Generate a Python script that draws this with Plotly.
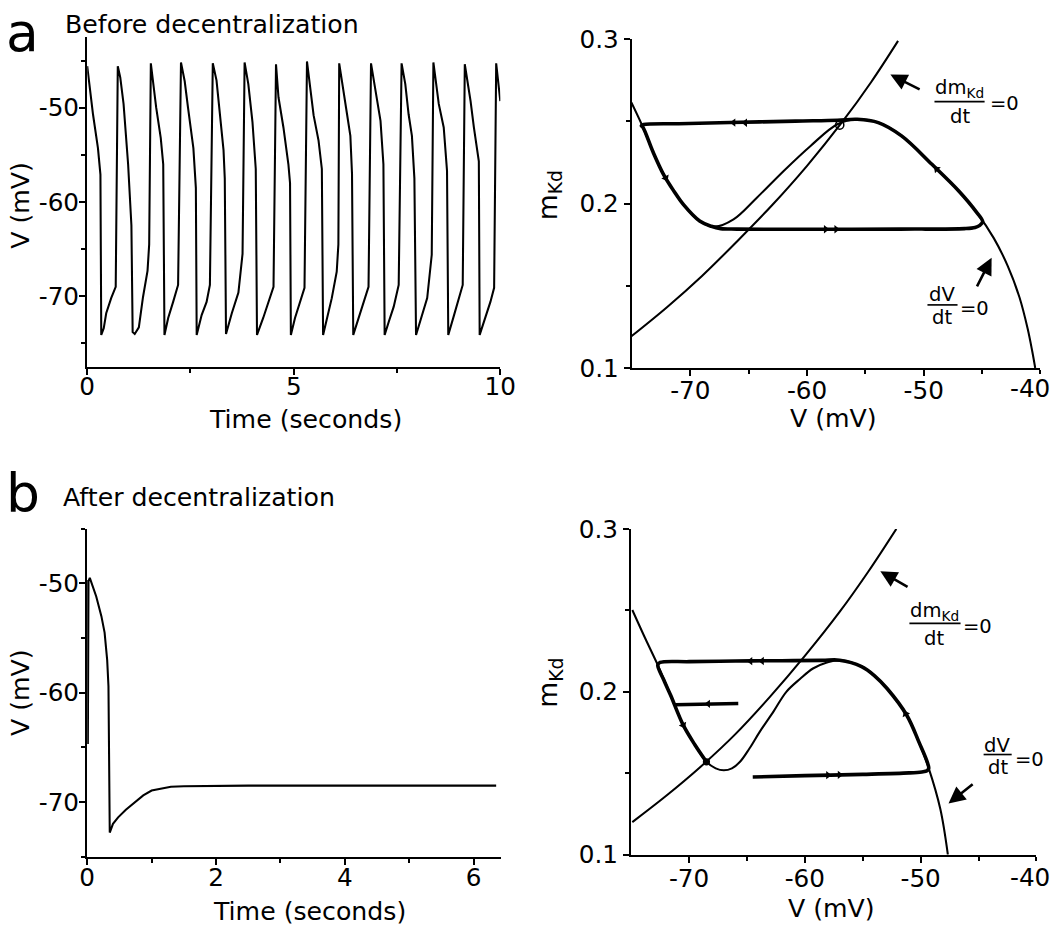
import plotly.graph_objects as go

# Figure canvas (page pixels)
W, H = 1072, 946
# The photographed picture shows the page slightly shrunk and offset:
#   picture_x = 0.975 * page_x + 7,  picture_y = 0.968 * page_y + 16.5
# All positions below are given in picture (reference) pixels and mapped back.
MX, BX, MY, BY = 0.975, 7.0, 0.968, 16.5
S = 1 / 0.972          # size compensation for fonts / markers
FONT = "DejaVu Sans"
BLACK = "black"

# ---------------- Panel a (left): V trace before decentralization ----------------
time_a = [0.00, 0.05, 0.14, 0.26, 0.32, 0.34, 0.40, 0.46, 0.58, 0.69,
          0.74, 0.80, 0.88, 0.99, 1.07, 1.10, 1.15, 1.25, 1.35, 1.46, 1.50,
          1.54, 1.59, 1.67, 1.78, 1.84, 1.87, 1.96, 2.08, 2.20,
          2.27, 2.36, 2.44, 2.57, 2.63, 2.65, 2.77, 2.89, 2.97,
          3.04, 3.13, 3.21, 3.30, 3.33, 3.36, 3.50, 3.66, 3.76,
          3.81, 3.90, 4.00, 4.08, 4.11, 4.26, 4.39, 4.51,
          4.57, 4.63, 4.75, 4.87, 4.91, 4.93, 5.03, 5.15, 5.26,
          5.32, 5.38, 5.48, 5.60, 5.68, 5.71, 5.80, 5.92, 6.04, 6.08,
          6.10, 6.21, 6.29, 6.37, 6.41, 6.44, 6.57, 6.69, 6.81,
          6.87, 6.97, 7.10, 7.17, 7.20, 7.30, 7.42, 7.54,
          7.61, 7.70, 7.78, 7.86, 7.92, 7.96, 8.11, 8.23, 8.34,
          8.38, 8.51, 8.63, 8.71, 8.74, 8.88, 9.00, 9.09,
          9.14, 9.28, 9.36, 9.48, 9.50, 9.64, 9.76, 9.85,
          9.90, 10.0]
volt_a = [-45.6, -47.6, -50.7, -54.3, -57.1, -74.1, -73.4, -71.8, -70.2, -69.0,
          -45.6, -46.8, -49.6, -56.0, -62.5, -73.8, -74.0, -73.3, -70.1, -67.3, -64.5,
          -45.3, -47.2, -50.0, -53.2, -56.0, -74.1, -72.3, -70.6, -68.8,
          -45.2, -47.2, -50.0, -54.3, -58.5, -74.1, -72.0, -70.6, -68.8,
          -45.3, -47.1, -50.4, -54.5, -57.5, -74.0, -71.8, -69.6, -65.5,
          -45.2, -47.5, -51.5, -56.5, -74.1, -72.3, -70.6, -69.0,
          -45.4, -48.9, -52.1, -56.0, -58.0, -74.1, -72.3, -70.6, -69.1,
          -45.1, -47.5, -50.8, -53.5, -56.5, -74.1, -72.3, -70.2, -67.4, -64.5,
          -45.3, -48.2, -50.7, -53.0, -57.0, -74.1, -72.3, -70.6, -69.0,
          -45.3, -47.9, -51.4, -56.0, -74.1, -72.7, -71.1, -68.8,
          -45.3, -47.5, -50.7, -53.0, -57.5, -74.1, -72.0, -70.2, -65.6,
          -45.2, -49.6, -52.1, -56.7, -74.1, -72.0, -70.2, -68.8,
          -45.4, -49.3, -52.1, -55.7, -74.1, -72.3, -70.6, -69.1,
          -45.3, -49.3]

# ---------------- Panel b (left): V trace after decentralization ----------------
time_b = [0.005, 0.010, 0.020, 0.040, 0.14, 0.22, 0.27, 0.31, 0.33, 0.345, 0.35,
          0.40, 0.48, 0.60, 0.74, 0.87, 1.00, 1.15, 1.30, 1.50, 2.5, 4.0, 5.5, 6.35]
volt_b = [-49.7, -64.7, -49.8, -49.5, -51.2, -53.0, -54.5, -57.0, -59.4, -66.0, -72.8,
          -72.0, -71.4, -70.7, -70.0, -69.4, -68.95, -68.75, -68.6, -68.55, -68.5, -68.5, -68.5, -68.5]

# ---------------- Panel a (right): phase plane ----------------
nullV_a_v = [-75.05, -74.05, -73.2, -72.3, -71.4, -70.6, -69.2, -67.9, -66.3, -64.3, -62.0,
             -59.7, -57.4, -55.7, -53.9, -51.9, -49.3, -47.0, -45.5, -44.0, -42.8, -41.8,
             -41.1, -40.7, -40.45]
nullV_a_m = [0.2615, 0.2463, 0.2315, 0.2178, 0.2075, 0.1995, 0.1894, 0.1860, 0.1904, 0.2036, 0.2199,
             0.2351, 0.2483, 0.2513, 0.2493, 0.2412, 0.2239, 0.2077, 0.1950, 0.1790, 0.1620, 0.1430,
             0.1240, 0.1100, 0.1000]
nullM_a_v = [-75.05, -72.0, -69.0, -66.0, -63.0, -60.0, -57.0, -54.5, -52.2]
nullM_a_m = [0.1193, 0.1370, 0.1560, 0.1770, 0.1990, 0.2230, 0.2495, 0.2740, 0.2990]
cycle_a_v = [-55.7, -57.4, -61.0, -66.6, -71.0, -74.0, -74.2, -74.05, -73.2, -72.3, -71.4, -70.6,
             -69.2, -68.2, -67.4, -66.0, -60.0, -52.0, -46.5, -45.6, -45.2, -44.95, -45.5, -47.0,
             -49.3, -51.9, -53.9, -55.7]
cycle_a_m = [0.2513, 0.2507, 0.2502, 0.2493, 0.2486, 0.2481, 0.2474, 0.2463, 0.2315, 0.2178, 0.2075, 0.1995,
             0.1894, 0.1862, 0.1848, 0.1845, 0.1844, 0.1845, 0.1848, 0.1855, 0.1868, 0.1890, 0.1950, 0.2077,
             0.2239, 0.2412, 0.2493, 0.2513]
dir_a_v = [-66.3, -65.3, -58.4, -57.5, -72.1, -48.9]
dir_a_m = [0.2493, 0.2492, 0.1844, 0.1844, 0.2155, 0.2210]
dir_a_sym = ["triangle-left", "triangle-left", "triangle-right", "triangle-right", "triangle-right", "triangle-left"]
dir_a_ang = [0, 0, 0, 0, 62, 44]
fixed_a_v = [-57.2]
fixed_a_m = [0.2478]

# ---------------- Panel b (right): phase plane ----------------
nullV_b_v = [-74.9, -73.8, -72.7, -71.6, -70.5, -69.5, -68.5, -67.7, -67.0, -66.3, -65.6, -64.8,
             -63.9, -62.7, -61.6, -60.4, -59.3, -58.1, -57.0, -55.1, -54.0, -52.9, -51.2, -50.2,
             -49.3, -48.3, -47.65]
nullV_b_m = [0.2502, 0.2330, 0.2164, 0.1980, 0.1795, 0.1675, 0.1570, 0.1530, 0.1518, 0.1530, 0.1570, 0.1650,
             0.1754, 0.1880, 0.2000, 0.2080, 0.2143, 0.2180, 0.2194, 0.2155, 0.2100, 0.2020, 0.1856, 0.1700,
             0.1530, 0.1280, 0.1000]
nullM_b_v = [-74.9, -72.0, -69.0, -66.0, -63.0, -60.0, -57.0, -54.5, -52.1]
nullM_b_m = [0.120, 0.136, 0.154, 0.174, 0.197, 0.222, 0.249, 0.274, 0.300]
traj_b_v = [-64.5, -60.0, -55.0, -51.0, -49.9, -49.45, -49.3, -50.2, -51.2, -52.9, -54.0, -55.1,
            -57.0, -58.5, -62.0, -66.0, -70.0, -72.5, -72.7, -72.2, -71.6, -70.5, -69.5, -68.5]
traj_b_m = [0.1477, 0.1485, 0.1493, 0.1502, 0.1508, 0.1515, 0.1530, 0.1700, 0.1856, 0.2020, 0.2100, 0.2155,
            0.2194, 0.2193, 0.2191, 0.2189, 0.2185, 0.2180, 0.2164, 0.2075, 0.1980, 0.1795, 0.1675, 0.1570]
short_b_v = [-65.75, -68.3, -70.0, -71.0, -71.25]
short_b_m = [0.1928, 0.1925, 0.1921, 0.1918, 0.1920]
dir_b_v = [-64.7, -63.7, -68.35, -58.0, -57.0, -70.5, -51.3]
dir_b_m = [0.2188, 0.2189, 0.1926, 0.1488, 0.1490, 0.1795, 0.1865]
dir_b_sym = ["triangle-left", "triangle-left", "triangle-left", "triangle-right", "triangle-right",
             "triangle-right", "triangle-left"]
dir_b_ang = [0, 0, 0, 0, 0, 63, 64]
fixed_b_v = [-68.5]
fixed_b_m = [0.157]

# tick labels
time_a_ticks = [0, 5, 10]
time_b_ticks = [0, 2, 4, 6]
volt_ticks = [-70, -60, -50]
v_phase_ticks = [-70, -60, -50]
v_phase_edge = -40            # its tick is drawn as a short tick, its label as an annotation
m_ticks = [0.1, 0.2, 0.3]


def lab(vals):
    return [("%g" % v) for v in vals]


fig = go.Figure()


def lines(x, y, xa, ya, width, shape="linear"):
    fig.add_trace(go.Scatter(x=x, y=y, mode="lines", xaxis=xa, yaxis=ya,
                             line=dict(color=BLACK, width=width * S, shape=shape),
                             hoverinfo="skip", showlegend=False))


lines(time_a, volt_a, "x", "y", 2)
lines(time_b, volt_b, "x3", "y3", 2)

lines(nullV_a_v, nullV_a_m, "x2", "y2", 2, "spline")
lines(nullM_a_v, nullM_a_m, "x2", "y2", 2, "spline")
lines(cycle_a_v, cycle_a_m, "x2", "y2", 3.5, "spline")

lines(nullV_b_v, nullV_b_m, "x4", "y4", 2, "spline")
lines(nullM_b_v, nullM_b_m, "x4", "y4", 2, "spline")
lines(traj_b_v, traj_b_m, "x4", "y4", 3.5, "spline")
lines(short_b_v, short_b_m, "x4", "y4", 3.5, "linear")

fig.add_trace(go.Scatter(x=dir_a_v, y=dir_a_m, mode="markers", xaxis="x2", yaxis="y2",
                         marker=dict(symbol=dir_a_sym, angle=dir_a_ang, size=7 * S, color=BLACK),
                         hoverinfo="skip", showlegend=False))
fig.add_trace(go.Scatter(x=dir_b_v, y=dir_b_m, mode="markers", xaxis="x4", yaxis="y4",
                         marker=dict(symbol=dir_b_sym, angle=dir_b_ang, size=7 * S, color=BLACK),
                         hoverinfo="skip", showlegend=False))
fig.add_trace(go.Scatter(x=fixed_a_v, y=fixed_a_m, mode="markers", xaxis="x2", yaxis="y2",
                         marker=dict(symbol="circle-open", size=8 * S, color=BLACK, line=dict(width=1.5)),
                         hoverinfo="skip", showlegend=False))
fig.add_trace(go.Scatter(x=fixed_b_v, y=fixed_b_m, mode="markers", xaxis="x4", yaxis="y4",
                         marker=dict(symbol="circle", size=7 * S, color=BLACK),
                         hoverinfo="skip", showlegend=False))


def pxx(t):
    return (t - BX) / MX


def pxy(t):
    return (t - BY) / MY


def fx(t):
    return pxx(t) / W


def fy(t):
    return 1 - pxy(t) / H


def dom_x(a, b):
    return [fx(a), fx(b)]


def dom_y(top, bottom):
    return [fy(bottom), fy(top)]


TICKFONT = dict(family=FONT, size=24 * S, color=BLACK)


def axis(domain, rng, anchor, tickvals, minor_vals, standoff):
    return dict(domain=domain, range=rng, anchor=anchor, showline=True, linecolor=BLACK,
                linewidth=2 * S, ticks="outside", ticklen=6 * S, tickwidth=2 * S, tickcolor=BLACK,
                tickmode="array", tickvals=tickvals, ticktext=lab(tickvals),
                ticklabelstandoff=standoff, tickfont=TICKFONT, showgrid=False,
                zeroline=False, fixedrange=True,
                minor=dict(tickmode="array", tickvals=minor_vals, ticks="outside", ticklen=4 * S,
                           tickwidth=2 * S, tickcolor=BLACK, showgrid=False))


fig.update_layout(
    width=W, height=H, autosize=False,
    margin=dict(l=0, r=0, t=0, b=0),
    paper_bgcolor="white", plot_bgcolor="white", showlegend=False,
    xaxis=axis(dom_x(86, 498), [0, 10], "y", time_a_ticks, [2.5, 7.5], -10),
    yaxis=axis(dom_y(39.4, 369), [-77.5, -42.5], "x", volt_ticks, [-75, -65, -55, -45], -5),
    xaxis2=axis(dom_x(629.3, 1036.7), [-75, -40], "y2", v_phase_ticks, [-65, -55, -45, v_phase_edge], -7),
    yaxis2=axis(dom_y(41.7, 370), [0.1, 0.3], "x2", m_ticks, [0.15, 0.25], 0),
    xaxis3=axis(dom_x(86, 499), [0, 6.43], "y3", time_b_ticks, [1, 3, 5], -9),
    yaxis3=axis(dom_y(530.5, 858), [-75, -45], "x3", volt_ticks, [-75, -65, -55, -45], -5),
    xaxis4=axis(dom_x(628.5, 1032.7), [-75, -40], "y4", v_phase_ticks, [-65, -55, -45, v_phase_edge], -5),
    yaxis4=axis(dom_y(530.7, 856), [0.1, 0.3], "x4", m_ticks, [0.15, 0.25], 0),
)

annotations = []
shapes = []


def text(t, x, y, size, xanchor="center", yanchor="middle", angle=0):
    annotations.append(dict(text=t, x=fx(x), y=fy(y), xref="paper", yref="paper",
                            xanchor=xanchor, yanchor=yanchor, textangle=angle, showarrow=False,
                            font=dict(family=FONT, size=size * S, color=BLACK)))


def bar(x0, x1, y):
    shapes.append(dict(type="line", xref="paper", yref="paper", x0=fx(x0), x1=fx(x1),
                       y0=fy(y), y1=fy(y), line=dict(color=BLACK, width=1.6 * S)))


def arrow(tip_x, tip_y, tail_x, tail_y):
    annotations.append(dict(text="", x=fx(tip_x), y=fy(tip_y), xref="paper", yref="paper",
                            ax=(tail_x - tip_x) / MX, ay=(tail_y - tip_y) / MY,
                            axref="pixel", ayref="pixel",
                            showarrow=True, arrowhead=2, arrowsize=1.3, arrowwidth=2.5 * S,
                            arrowcolor=BLACK, standoff=0, startstandoff=0))


# panel letters and titles
text("a", 3, 34.5, 52, xanchor="left")
text("b", 3, 495, 52, xanchor="left")
text("Before decentralization", 62, 27, 24.5, xanchor="left")
text("After decentralization", 60, 499, 24.5, xanchor="left")

# edge tick labels of the phase-plane V axes
text("%g" % v_phase_edge, 1026, 390, 24)
text("%g" % v_phase_edge, 1026, 878.5, 24)

# axis titles
text("Time (seconds)", 304, 421, 24.5)
text("Time (seconds)", 307.5, 913, 24.5)
text("V (mV)", 20, 208, 24.5, angle=-90)
text("V (mV)", 20, 694.5, 24.5, angle=-90)
text("V (mV)", 830, 420, 24.5)
text("V (mV)", 828.5, 910, 24.5)
text("m<sub>Kd</sub>", 547, 197, 26, angle=-90)
text("m<sub>Kd</sub>", 547, 684, 26, angle=-90)

# nullcline labels (fractions)
FS = 19
text("dm<sub>Kd</sub>", 956, 91, FS)
bar(931, 981, 104)
text("dt", 956, 118.5, FS)
text("=0", 984, 105.5, FS, xanchor="left")

text("dV", 939, 296.5, FS)
bar(924, 954, 307)
text("dt", 939, 319.5, FS)
text("=0", 954, 310.5, FS, xanchor="left")

text("dm<sub>Kd</sub>", 931.5, 613, FS)
bar(906, 957, 625)
text("dt", 931, 640.5, FS)
text("=0", 957, 628.5, FS, xanchor="left")

text("dV", 993, 746.5, FS)
bar(980, 1008, 756)
text("dt", 994, 768.5, FS)
text("=0", 1009, 760.5, FS, xanchor="left")

# pointer arrows
arrow(887, 77, 917, 92)
arrow(988, 260, 973, 289)
arrow(877, 573, 905, 589)
arrow(945, 805, 970, 785)

fig.update_layout(annotations=annotations, shapes=shapes)

fig.write_html("out.html", config={"displayModeBar": False},
               post_script="document.body.style.margin='0';")
